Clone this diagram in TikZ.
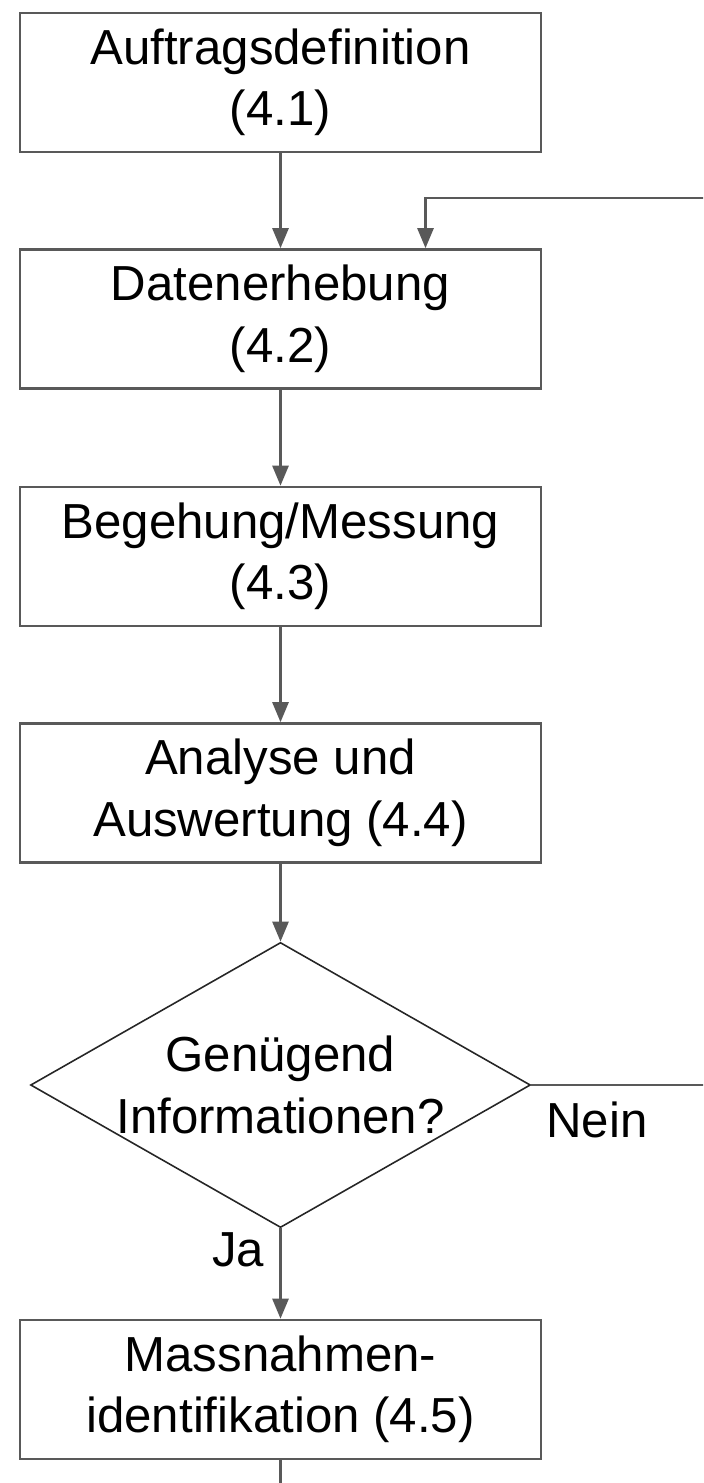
\documentclass[tikz,border=0pt]{standalone}
\usepackage{fontspec}
\setmainfont{Liberation Sans}
\usepackage{tikz}
\usetikzlibrary{shapes.geometric,arrows.meta,calc}

\begin{document}
\begin{tikzpicture}[x=0.02cm, y=-0.02cm,
  font=\fontsize{28}{35}\selectfont,
  stepbox/.style={rectangle, draw=black!65, line width=1.5pt, fill=white,
    minimum width=10.42cm, minimum height=2.78cm, inner sep=0pt, align=center},
  decision/.style={diamond, aspect=1.75, draw=black!85, line width=0.9pt, inner sep=0pt,
    minimum width=10cm, minimum height=5.7cm, align=center},
  conn/.style={draw=black!65, line width=1.5pt},
  arr/.style={conn, -{Triangle[width=0.32cm, length=0.4cm]}}]
\path[use as bounding box, clip] (0,0) rectangle (703,1483);

% Process steps
\node[stepbox] (auftrag) at (280.5,82.5) {Auftragsdefinition\\(4.1)};
\node[stepbox] (daten) at (280.5,319) {Datenerhebung\\(4.2)};
\node[stepbox] (begehung) at (280.5,556.5) {Begehung/Messung\\(4.3)};
\node[stepbox] (analyse) at (280.5,793) {Analyse und\\Auswertung (4.4)};

% Decision
\node[decision] (genug) at (280.5,1085) {Gen\"ugend\\Informationen?};

% Result
\node[stepbox] (massn) at (280.5,1389.5) {Massnahmen-\\identifikation (4.5)};

% Arrows
\draw[arr] (auftrag) -- (daten);
\draw[arr] (daten) -- (begehung);
\draw[arr] (begehung) -- (analyse);
\draw[arr] (analyse) -- (genug);
\draw[arr] (genug) -- (massn);

% Feedback loop (runs off the right edge)
\coordinate (rueck) at (720,198);
\draw[arr] (genug.east) -| (rueck) -| ($(daten.north)+(145,0)$);

% Continuation below
\coordinate (weiter) at (280.5,1510);
\draw[conn] (massn) -- (weiter);

% Labels
\node (ja) at (238,1250) {Ja};
\node (nein) at (597,1120) {Nein};

\end{tikzpicture}
\end{document}
